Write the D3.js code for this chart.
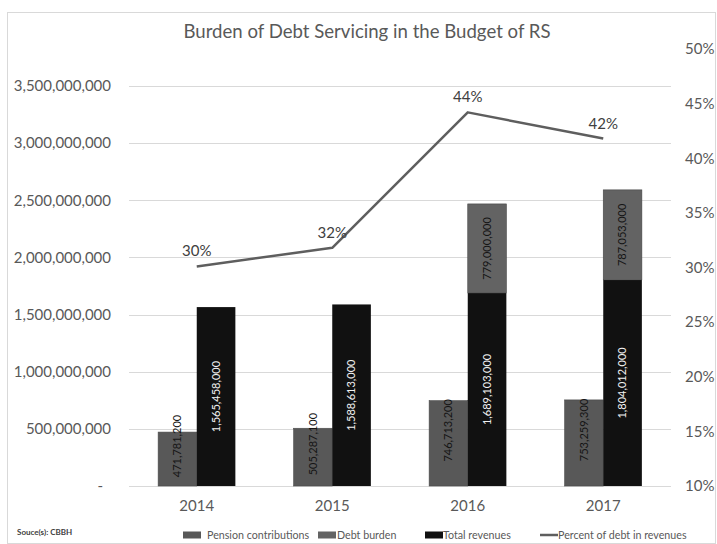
<!DOCTYPE html>
<html>
<head>
<meta charset="utf-8">
<script src="https://cdn.jsdelivr.net/npm/d3@7"></script>
<style>
  html, body { margin: 0; padding: 0; background: #fff; }
  svg { display: block; font-family: Lato, "Open Sans", sans-serif; }
</style>
</head>
<body>
<svg id="chart" width="717" height="544"></svg>
<script>
// Budget of Republika Srpska: revenues and debt servicing, 2014-2017
const years = ["2014", "2015", "2016", "2017"];
const pensionContributions = [471781200, 505287100, 746713200, 753259300];
const debtBurden = [0, 0, 779000000, 787053000];
const totalRevenues = [1565458000, 1588613000, 1689103000, 1804012000];
const percentOfDebt = [0.301, 0.318, 0.442, 0.418];
const leftTicks = [0, 500000000, 1000000000, 1500000000, 2000000000, 2500000000, 3000000000, 3500000000];
const rightTicks = [0.10, 0.15, 0.20, 0.25, 0.30, 0.35, 0.40, 0.45, 0.50];
const legendLabels = ["Pension contributions", "Debt burden", "Total revenues", "Percent of debt in revenues"];

const svg = d3.select("#chart");
const textColor = "#595959";
const colPension = "#585858";
const colDebt = "#636363";
const colTotal = "#111111";
const colLine = "#5e5e5e";

// chart frame
svg.append("rect")
  .attr("x", 7.5).attr("y", 12.5).attr("width", 708).attr("height", 531)
  .attr("fill", "#fff").attr("stroke", "#d9d9d9");

const plot = { left: 129, right: 671, bottom: 486 };

const x = d3.scaleBand().domain(years)
  .range([plot.left, plot.right])
  .paddingInner(0.43).paddingOuter(0.215);
const sub = d3.scaleBand().domain(["a", "b"]).range([0, x.bandwidth()]);
const y = d3.scaleLinear().domain([0, 3500000000]).range([plot.bottom, 86]);
const yPct = d3.scaleLinear().domain([0.10, 0.50]).range([plot.bottom, 49]);

// title
svg.append("text")
  .attr("x", 367).attr("y", 38)
  .attr("text-anchor", "middle")
  .attr("font-size", 18.6).attr("fill", textColor)
  .text("Burden of Debt Servicing in the Budget of RS");

// gridlines
svg.append("g").selectAll("line")
  .data(leftTicks)
  .join("line")
  .attr("x1", plot.left).attr("x2", plot.right)
  .attr("y1", d => Math.round(y(d)) + 0.5).attr("y2", d => Math.round(y(d)) + 0.5)
  .attr("stroke", "#d9d9d9").attr("stroke-width", 1);

// left axis
const fmt = d3.format(",");
const leftAxis = svg.append("g")
  .attr("transform", `translate(${plot.left - 18},0)`)
  .call(d3.axisLeft(y).tickValues(leftTicks).tickSize(0).tickPadding(0)
    .tickFormat(d => d === 0 ? "-" : fmt(d)));
leftAxis.select(".domain").remove();
leftAxis.selectAll("text")
  .attr("font-family", "Lato, sans-serif")
  .attr("font-size", 15).attr("fill", textColor)
  .attr("dx", d => d === 0 ? -8 : 0);

// right axis
const rightAxis = svg.append("g")
  .attr("transform", `translate(685,0)`)
  .call(d3.axisRight(yPct).tickValues(rightTicks).tickSize(0).tickPadding(0)
    .tickFormat(d3.format(".0%")));
rightAxis.select(".domain").remove();
rightAxis.selectAll("text")
  .attr("font-family", "Lato, sans-serif")
  .attr("font-size", 15).attr("fill", textColor);

// category axis
const xAxis = svg.append("g")
  .attr("transform", `translate(0,${plot.bottom})`)
  .call(d3.axisBottom(x).tickSize(0).tickPadding(14));
xAxis.select(".domain").remove();
xAxis.selectAll("text")
  .attr("font-family", "Lato, sans-serif")
  .attr("font-size", 15).attr("fill", textColor);

// bars
const rows = years.map((yr, i) => ({
  year: yr,
  pension: pensionContributions[i],
  debt: debtBurden[i],
  total: totalRevenues[i]
}));

const bars = svg.append("g");
const barLabel = (g, cx, cy, value, color) => {
  g.append("text")
    .attr("transform", `translate(${cx},${cy}) rotate(-90)`)
    .attr("text-anchor", "middle").attr("dy", "0.35em")
    .attr("font-size", 11).attr("fill", color)
    .text(fmt(value));
};

rows.forEach(r => {
  const bx = x(r.year);
  // pension contributions
  bars.append("rect")
    .attr("x", bx + sub("a")).attr("y", y(r.pension))
    .attr("width", sub.bandwidth()).attr("height", y(0) - y(r.pension))
    .attr("fill", colPension).attr("stroke", "#4a4a4a").attr("stroke-width", 0.6);
  // total revenues
  bars.append("rect")
    .attr("x", bx + sub("b")).attr("y", y(r.total))
    .attr("width", sub.bandwidth()).attr("height", y(0) - y(r.total))
    .attr("fill", colTotal);
  // debt burden stacked on revenues
  if (r.debt > 0) {
    bars.append("rect")
      .attr("x", bx + sub("b")).attr("y", y(r.total + r.debt))
      .attr("width", sub.bandwidth()).attr("height", y(r.total) - y(r.total + r.debt))
      .attr("fill", colDebt).attr("stroke", "#454545").attr("stroke-width", 0.6);
  }
});

rows.forEach(r => {
  const bx = x(r.year);
  const ca = bx + sub("a") + sub.bandwidth() / 2;
  const cb = bx + sub("b") + sub.bandwidth() / 2;
  barLabel(bars, ca, (y(r.pension) + y(0)) / 2 - 13, r.pension, "#151515");
  barLabel(bars, cb, (y(r.total) + y(0)) / 2, r.total, "#f2f2f2");
  if (r.debt > 0) barLabel(bars, cb, (y(r.total + r.debt) + y(r.total)) / 2, r.debt, "#151515");
});

// percent line
const cx = d => x(d) + x.bandwidth() / 2;
const linePts = years.map((yr, i) => [cx(yr), yPct(percentOfDebt[i])]);
svg.append("path")
  .attr("d", d3.line()(linePts))
  .attr("fill", "none").attr("stroke", colLine).attr("stroke-width", 2.5)
  .attr("stroke-linejoin", "round");

svg.append("g").selectAll("text")
  .data(years)
  .join("text")
  .attr("x", d => cx(d))
  .attr("y", (d, i) => yPct(percentOfDebt[i]) - 10)
  .attr("text-anchor", "middle")
  .attr("font-size", 15).attr("fill", "#404040")
  .text((d, i) => d3.format(".0%")(percentOfDebt[i]));

// legend
const legendY = 535;
const legendX = [183, 318, 425, 540];
const lg = svg.append("g").attr("font-size", 10.7).attr("fill", textColor);
[colPension, colDebt, colTotal].forEach((c, i) => {
  lg.append("rect")
    .attr("x", legendX[i]).attr("y", legendY - 3.5)
    .attr("width", 18).attr("height", 7).attr("fill", c);
});
lg.append("line")
  .attr("x1", legendX[3]).attr("x2", legendX[3] + 18)
  .attr("y1", legendY).attr("y2", legendY)
  .attr("stroke", colLine).attr("stroke-width", 2.5);
const textOffsets = [24, 19, 18, 18];
legendLabels.forEach((t, i) => {
  lg.append("text")
    .attr("x", legendX[i] + textOffsets[i]).attr("y", legendY)
    .attr("dy", "0.35em")
    .text(t);
});

// source note
svg.append("text")
  .attr("x", 17).attr("y", 535)
  .attr("font-size", 8).attr("font-weight", "bold").attr("fill", "#404040")
  .text("Souce(s): CBBH");
</script>
</body>
</html>
